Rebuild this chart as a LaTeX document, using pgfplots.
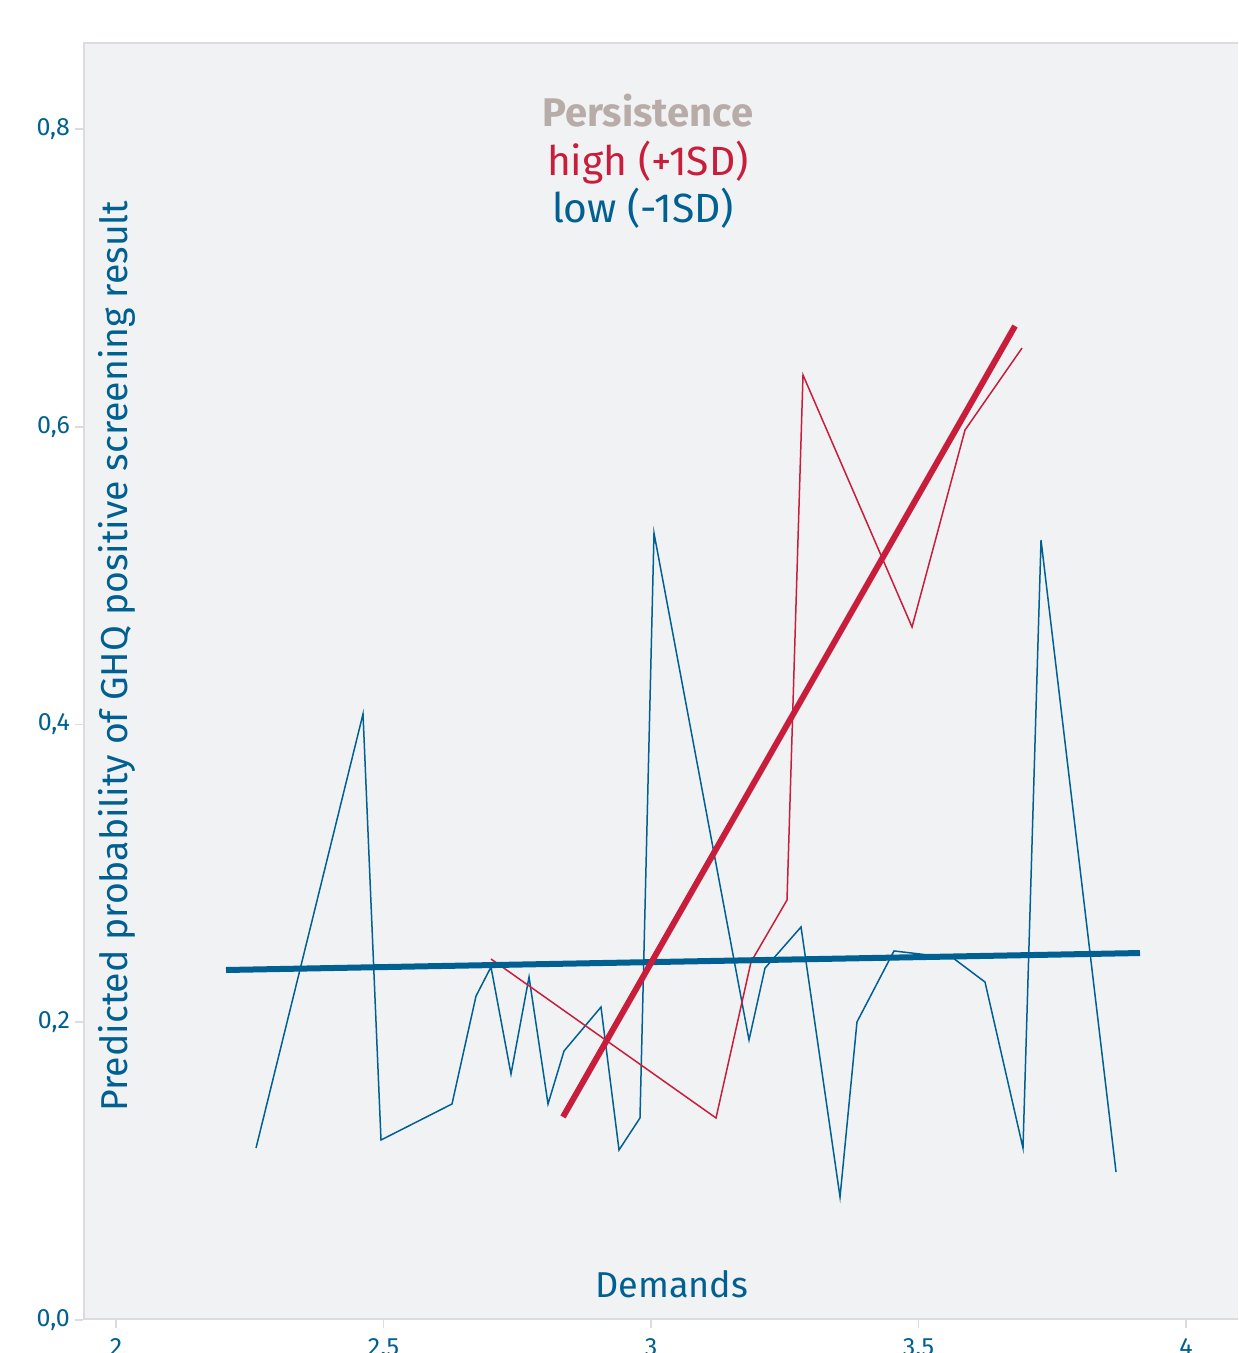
\documentclass[border=0pt]{standalone}
\usepackage{fontspec}
\setmainfont{Fira Sans}
\usepackage{pgfplots}
\pgfplotsset{compat=1.18}

\definecolor{lowblue}{RGB}{0,96,145}
\definecolor{highred}{RGB}{200,30,60}
\definecolor{panel}{RGB}{241,242,244}
\definecolor{framegray}{RGB}{220,220,222}
\definecolor{legtitle}{RGB}{184,172,168}

\begin{document}
\begin{tikzpicture}
\begin{axis}[
  at={(0,0)}, anchor=south west,
  scale only axis, width=577.5pt, height=638.5pt,
  xmin=1.9383, xmax=4.0972, ymin=0, ymax=0.8578,
  axis background/.style={fill=panel},
  axis line style={draw=none},
  xtick pos=bottom, ytick pos=left,
  xtick={2,2.5,3,3.5,4}, xticklabels={2,2.5,3,3.5,4},
  ytick={0,0.2,0.4,0.6,0.8},
  yticklabels={{0,0},{0,2},{0,4},{0,6},{0,8}},
  tick align=outside, major tick length=4pt,
  tick style={framegray, line width=0.8pt},
  tick label style={font=\fontsize{12.5}{13}\selectfont, text=lowblue},
  yticklabel style={xshift=1pt},
  xticklabel style={yshift=-1.5pt},
  clip=true,
]
% observed curves, low persistence (-1SD)
\addplot[lowblue, line width=0.75pt] coordinates {
  (2.2617,0.1155) (2.4617,0.4071) (2.4953,0.1209) (2.6280,0.1451)
  (2.6729,0.2176) (2.7009,0.2371) (2.7383,0.1652) (2.7720,0.2304)
  (2.8075,0.1451) (2.8374,0.1807) (2.9065,0.2102) (2.9402,0.1142)
  (2.9794,0.1357) (3.0056,0.5286) (3.1832,0.1881) (3.2131,0.2364)
  (3.2804,0.2640) (3.3533,0.0826) (3.3850,0.2002) (3.4542,0.2479)
  (3.5645,0.2432) (3.6243,0.2270) (3.6953,0.1155) (3.7290,0.5239)
  (3.8692,0.0994)
};
% high persistence (+1SD)
\addplot[highred, line width=0.75pt] coordinates {
  (2.7009,0.2425) (3.1215,0.1357) (3.1869,0.2405) (3.2542,0.2821)
  (3.2841,0.6348) (3.4879,0.4655) (3.5869,0.5978) (3.6935,0.6529)
};
% linear trends
\addplot[lowblue, line width=3pt] coordinates {(2.2056,0.2351) (3.9140,0.2465)};
\addplot[highred, line width=3pt] coordinates {(2.8355,0.1364) (3.6804,0.6677)};

% frame
\draw[framegray, line width=1.5pt] (rel axis cs:1,1) -- (rel axis cs:0,1) -- (rel axis cs:0,0) -- (rel axis cs:1,0);

% legend text
\node[anchor=base, text=legtitle, font=\fontsize{20}{24}\selectfont\bfseries] at (axis cs:2.994,0.8014) {Persistence};
\node[anchor=base, text=highred, font=\fontsize{20.4}{24}\selectfont] at (axis cs:2.994,0.7691) {high (+1SD)};
\node[anchor=base, text=lowblue, font=\fontsize{20.4}{24}\selectfont] at (axis cs:2.985,0.7369) {low (-1SD)};

% axis titles
\node[anchor=base, text=lowblue, font=\fontsize{18}{22}\selectfont] at (axis cs:3.039,0.0154) {Demands};
\node[anchor=base, rotate=90, text=lowblue, font=\fontsize{18.7}{22}\selectfont] at (axis cs:2.0206,0.446) {Predicted probability of GHQ positive screening result};
\end{axis}
\pgfresetboundingbox
\path[use as bounding box] (-41.5pt,-16.5pt) rectangle (577.5pt,660pt);
\end{tikzpicture}
\end{document}
